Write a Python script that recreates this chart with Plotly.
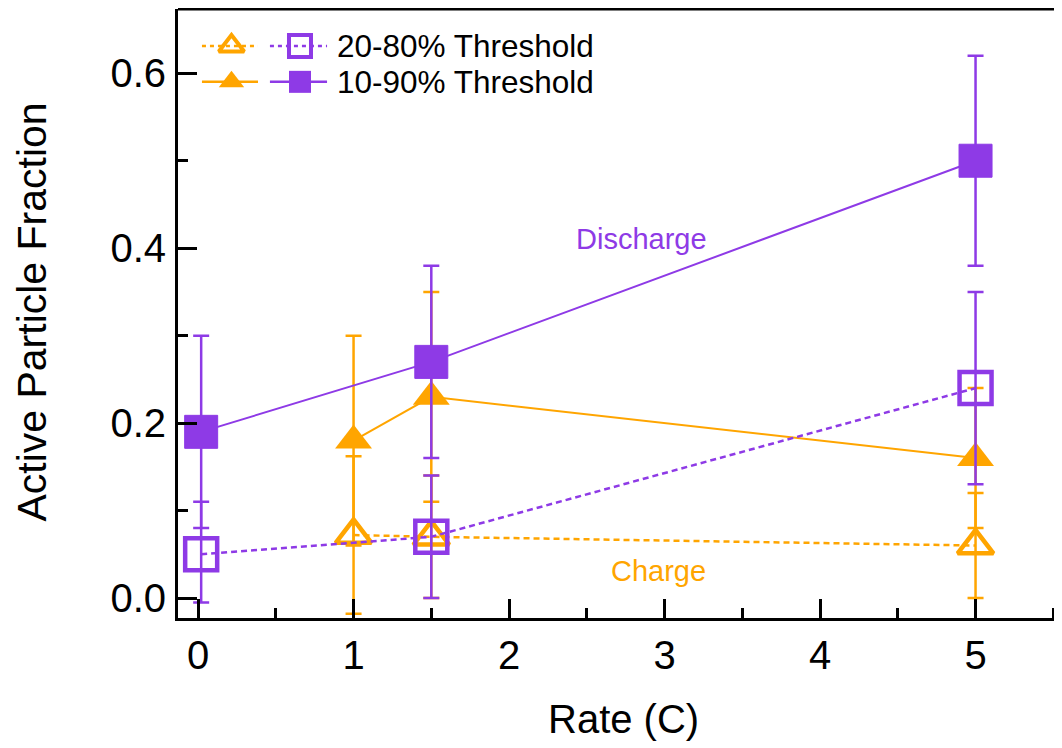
import plotly.graph_objects as go

# ---- data ----
rate_discharge = [0.02, 1.5, 5]
rate_charge = [1, 1.5, 5]

dis_1090 = [0.19, 0.27, 0.50]
dis_1090_err = [0.11, 0.11, 0.12]
dis_2080 = [0.05, 0.07, 0.24]
dis_2080_err_plus = [0.06, 0.07, 0.11]
dis_2080_err_minus = [0.055, 0.07, 0.11]

ch_1090 = [0.18, 0.23, 0.16]
ch_1090_err = [0.12, 0.12, 0.08]
ch_2080 = [0.072, 0.07, 0.06]
ch_2080_err = [0.09, 0.07, 0.06]

x_ticks = [0, 1, 2, 3, 4, 5]
y_ticks = [0.0, 0.2, 0.4, 0.6]
y_ticklabels = ["0.0", "0.2", "0.4", "0.6"]
legend_labels = ["20-80% Threshold", "10-90% Threshold"]

PURPLE = "#8E3AE6"
ORANGE = "#FFA500"
FONT = "Liberation Sans, Arial, sans-serif"

fig = go.Figure()

def err(arr, minus=None, color=None):
    d = dict(type="data", array=arr, visible=True, color=color, thickness=2.5, width=8)
    if minus is not None:
        d["symmetric"] = False
        d["arrayminus"] = minus
    return d

# charge (orange)
fig.add_trace(go.Scatter(
    x=rate_charge, y=ch_1090, mode="lines+markers",
    line=dict(color=ORANGE, width=2),
    marker=dict(symbol="triangle-up", size=32, color=ORANGE, line=dict(width=0)),
    error_y=err(ch_1090_err, color=ORANGE), showlegend=False))
fig.add_trace(go.Scatter(
    x=rate_charge, y=ch_2080, mode="lines+markers",
    line=dict(color=ORANGE, width=2.5, dash="6px,4px"),
    marker=dict(symbol="triangle-up-open", size=31, color=ORANGE, line=dict(width=4.5, color=ORANGE)),
    error_y=err(ch_2080_err, color=ORANGE), showlegend=False))
# discharge (purple)
fig.add_trace(go.Scatter(
    x=rate_discharge, y=dis_1090, mode="lines+markers",
    line=dict(color=PURPLE, width=2),
    marker=dict(symbol="square", size=33, color=PURPLE, line=dict(width=1, color=PURPLE)),
    error_y=err(dis_1090_err, color=PURPLE), showlegend=False))
fig.add_trace(go.Scatter(
    x=rate_discharge, y=dis_2080, mode="lines+markers",
    line=dict(color=PURPLE, width=2.5, dash="6px,4px"),
    marker=dict(symbol="square-open", size=32, color=PURPLE, line=dict(width=4.5, color=PURPLE)),
    error_y=err(dis_2080_err_plus, dis_2080_err_minus, color=PURPLE), showlegend=False))

# ---- custom legend on an overlay axis (0..1 fraction of plot area) ----
leg_rows_y = [0.9394, 0.8804]
leg_orange = (0.0271, 0.0605, 0.0905)
leg_purple = (0.104, 0.138, 0.1686)
leg_text_x = 0.1776
styles = [("dot", "triangle-up-open", "square-open"), ("solid", "triangle-up", "square")]
for (dash, tri, sq), yy in zip(styles, leg_rows_y):
    d = "4px,4px" if dash == "dot" else "solid"
    for (x0, xc, x1), col, sym in ((leg_orange, ORANGE, tri), (leg_purple, PURPLE, sq)):
        fig.add_trace(go.Scatter(x=[x0, x1], y=[yy, yy], xaxis="x2", yaxis="y2", mode="lines",
                                 line=dict(color=col, width=2.5, dash=d), showlegend=False, hoverinfo="skip"))
        open_ = sym.endswith("open")
        fig.add_trace(go.Scatter(x=[xc], y=[yy], xaxis="x2", yaxis="y2", mode="markers",
                                 marker=dict(symbol=sym, size=22, color=col,
                                             line=dict(width=4 if open_ else 0, color=col)),
                                 showlegend=False, hoverinfo="skip"))
for lbl, yy in zip(legend_labels, leg_rows_y):
    fig.add_annotation(x=leg_text_x, y=yy, xref="x2", yref="y2", text=lbl, showarrow=False,
                       xanchor="left", yanchor="middle", font=dict(family=FONT, size=31.5, color="black"))

# ---- annotations ----
fig.add_annotation(x=2.85, y=0.41, text="Discharge", showarrow=False,
                   font=dict(family=FONT, size=29, color=PURPLE))
fig.add_annotation(x=2.96, y=0.031, text="Charge", showarrow=False,
                   font=dict(family=FONT, size=29, color=ORANGE))
fig.add_annotation(xref="paper", yref="paper", x=-0.1648, y=0.502, text="Active Particle Fraction",
                   textangle=-90, showarrow=False, xanchor="center", yanchor="middle",
                   font=dict(family=FONT, size=41, color="black"))
fig.add_annotation(xref="paper", yref="paper", x=0.504, y=-0.166, text="Rate (C)",
                   showarrow=False, xanchor="center", yanchor="middle",
                   font=dict(family=FONT, size=40, color="black"))

# top frame line
fig.add_shape(type="line", xref="paper", yref="paper", x0=0, x1=1, y0=1, y1=1,
              line=dict(color="black", width=3))

fig.update_layout(
    width=1054, height=740,
    margin=dict(l=170, r=0, t=1, b=130),
    paper_bgcolor="white", plot_bgcolor="white",
    font=dict(family=FONT, size=40, color="black"),
    xaxis=dict(range=[-0.129, 5.556], tickvals=x_ticks, ticks="inside", ticklen=19, tickwidth=2.5,
               tickcolor="black", showline=True, linewidth=3, linecolor="black", showgrid=False,
               zeroline=False, tickfont=dict(family=FONT, size=40),
               minor=dict(dtick=0.5, tick0=0, ticks="inside", ticklen=10, tickwidth=2.5, tickcolor="black"),
               ticklabelstandoff=0),
    yaxis=dict(range=[-0.02286, 0.6735], tickvals=y_ticks, ticktext=y_ticklabels, ticks="inside",
               ticklen=19, tickwidth=2.5, tickcolor="black", showline=True, linewidth=3,
               linecolor="black", showgrid=False, zeroline=False, tickfont=dict(family=FONT, size=40),
               minor=dict(dtick=0.1, tick0=0, ticks="inside", ticklen=10, tickwidth=2.5, tickcolor="black"),
               ticklabelstandoff=1),
    xaxis2=dict(overlaying="x", range=[0, 1], visible=False, fixedrange=True),
    yaxis2=dict(overlaying="y", range=[0, 1], visible=False, fixedrange=True),
)

fig.write_html("out.html")
